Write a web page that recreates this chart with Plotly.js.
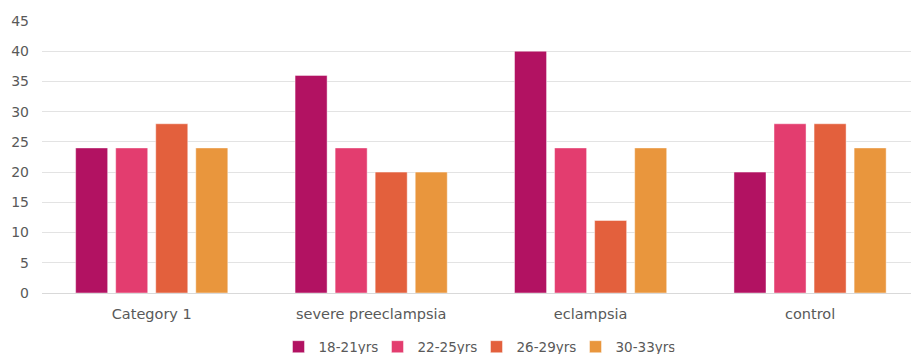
<!DOCTYPE html>
<html><head><meta charset="utf-8">
<script src="https://cdn.plot.ly/plotly-3.0.1.min.js"></script>
<style>html,body{margin:0;padding:0;background:#fff;overflow:hidden}</style>
</head><body>
<div id="chart" style="width:911px;height:354px"></div>
<script>
const categories = ["Category 1", "severe preeclampsia", "eclampsia", "control"];
const seriesNames = ["18-21yrs", "22-25yrs", "26-29yrs", "30-33yrs"];
const s1821 = [24, 36, 40, 20];
const s2225 = [24, 24, 24, 28];
const s2629 = [28, 20, 12, 28];
const s3033 = [24, 20, 24, 24];
const yTicks = [0, 5, 10, 15, 20, 25, 30, 35, 40, 45];

const colors = ["#B21262", "#E33D6F", "#E3603D", "#E9963D"];
const values = [s1821, s2225, s2629, s3033];
const font = "DejaVu Sans, sans-serif";

const traces = values.map((v, i) => ({
  type: "bar",
  name: seriesNames[i],
  x: categories,
  y: v,
  marker: {color: colors[i], line: {color: "rgba(255,255,255,0.45)", width: 1}},
  hoverinfo: "none"
}));

const layout = {
  width: 911, height: 354,
  margin: {l: 42, r: 0, t: 21, b: 61, autoexpand: false},
  paper_bgcolor: "#fff", plot_bgcolor: "#fff",
  barmode: "group",
  bargap: 0.27,
  bargroupgap: 0.2,
  font: {family: font, color: "#595959", size: 14},
  xaxis: {
    type: "category",
    range: [-0.5, 3.46],
    showgrid: false,
    showline: false,
    zeroline: false,
    ticks: "",
    automargin: false,
    tickfont: {family: font, size: 14.5, color: "#595959"},
    ticklabelstandoff: 10
  },
  yaxis: {
    range: [0, 45],
    tickvals: yTicks,
    showgrid: true,
    gridcolor: "#e3e3e3",
    gridwidth: 1,
    zeroline: true,
    zerolinecolor: "#d9d9d9",
    zerolinewidth: 1,
    showline: false,
    ticks: "",
    automargin: false,
    tickfont: {family: font, size: 14, color: "#595959"},
    ticklabelstandoff: 12
  },
  legend: {
    orientation: "h",
    x: 0.5, xanchor: "center", xref: "paper",
    y: 0.02, yanchor: "middle", yref: "container",
    font: {family: font, size: 13.5, color: "#595959"},
    traceorder: "normal",
    itemwidth: 30,
    entrywidth: 54,
    entrywidthmode: "pixels"
  },
  showlegend: true
};

Plotly.newPlot("chart", traces, layout, {staticPlot: true, displayModeBar: false});
</script>
</body></html>
